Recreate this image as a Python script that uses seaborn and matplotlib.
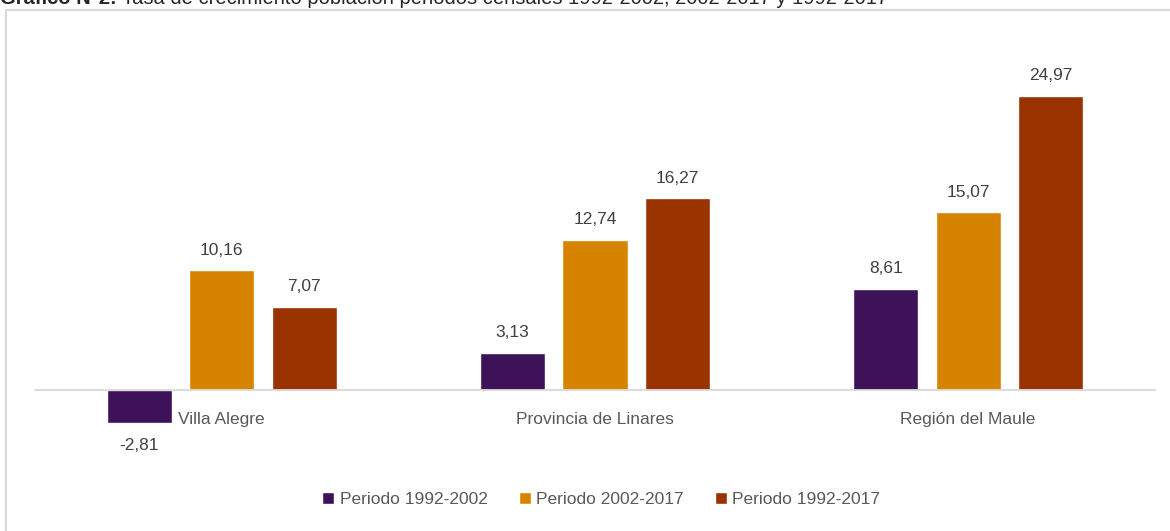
import pandas as pd
import seaborn as sns
import matplotlib.pyplot as plt
from matplotlib.patches import Rectangle

# data
territorios = ["Villa Alegre", "Provincia de Linares", "Región del Maule"]
periodos = ["Periodo 1992-2002", "Periodo 2002-2017", "Periodo 1992-2017"]
p_1992_2002 = [-2.81, 3.13, 8.61]
p_2002_2017 = [10.16, 12.74, 15.07]
p_1992_2017 = [7.07, 16.27, 24.97]
colores = ["#3D1259", "#D68400", "#993300"]

df = pd.DataFrame({
    "territorio": territorios * 3,
    "periodo": [periodos[0]] * 3 + [periodos[1]] * 3 + [periodos[2]] * 3,
    "tasa": p_1992_2002 + p_2002_2017 + p_1992_2017,
})

sns.set_theme(style="white")
plt.rcParams["font.family"] = ["Liberation Sans Narrow", "Liberation Sans", "DejaVu Sans"]

fig = plt.figure(figsize=(11.7, 5.31), dpi=100)
ax = fig.add_axes([0.03, 0.134, 0.957, 0.81])

sns.barplot(data=df, x="territorio", y="tasa", hue="periodo", order=territorios,
            hue_order=periodos, palette=colores, width=0.663, gap=0.21,
            saturation=1, ax=ax, legend=True)

ax.set_xlim(-0.5, 2.5)
ax.set_ylim(-5.95, 30.6)
ax.set_xlabel("")
ax.set_ylabel("")
ax.set_yticks([])

for s in ["top", "right", "left"]:
    ax.spines[s].set_visible(False)
ax.spines["bottom"].set_position(("data", 0))
ax.spines["bottom"].set_color("#D9D9D9")
ax.spines["bottom"].set_linewidth(1.3)
ax.tick_params(axis="x", length=0, pad=16, labelsize=12.5, labelcolor="#595959")

# value labels, comma as decimal separator
for cont in ax.containers:
    for b in cont:
        v = b.get_height()
        txt = f"{v:.2f}".replace(".", ",")
        ax.annotate(txt, (b.get_x() + b.get_width() / 2, v),
                    xytext=(0, 9 if v >= 0 else -11), textcoords="offset points",
                    ha="center", va="bottom" if v >= 0 else "top",
                    fontsize=12.5, color="#404040")

handles, labels = ax.get_legend_handles_labels()
ax.get_legend().remove()
fig.legend(handles, labels, loc="center", bbox_to_anchor=(0.514, 0.06), ncol=3,
           frameon=False, fontsize=12.5, labelcolor="#595959", handlelength=0.7,
           handleheight=0.7, handletextpad=0.3, columnspacing=1.8)

# chart frame and caption clipped at the top edge, as in the source
fig.patches.append(Rectangle((6 / 1170, -0.01), 1.0, 1 - 10 / 531 + 0.01,
                             transform=fig.transFigure, fill=False,
                             edgecolor="#D9D9D9", linewidth=1.5))
fig.text(0.0, 1 - 4 / 531, "Gráfico N°2:", fontsize=14.5, fontweight="bold",
         va="baseline", ha="left", family=["Liberation Sans", "DejaVu Sans"])
fig.text(122 / 1170, 1 - 4 / 531,
         "Tasa de crecimiento población periodos censales 1992-2002, 2002-2017 y 1992-2017",
         fontsize=14.5, va="baseline", ha="left", family=["Liberation Sans", "DejaVu Sans"])

fig.savefig("out.png", dpi=100)
